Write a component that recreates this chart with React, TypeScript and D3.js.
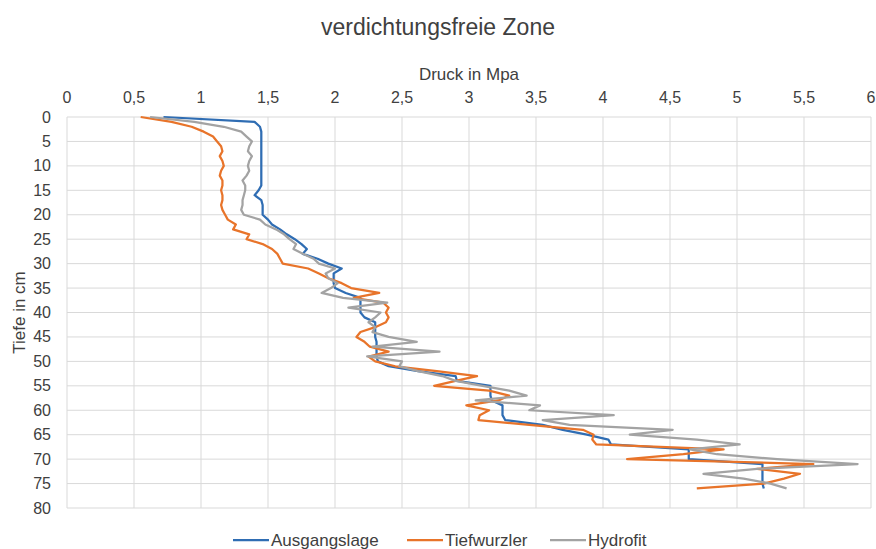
import * as d3 from 'd3'

// depth in cm (shared by all three series)
const depths = [
  0, 1, 2, 3, 4, 5, 6, 7, 8, 9, 10, 11, 12, 13, 14, 15, 16, 17, 18, 19,
  20, 21, 22, 23, 24, 25, 26, 27, 28, 29, 30, 31, 32, 33, 34, 35, 36, 37, 38, 39,
  40, 41, 42, 43, 44, 45, 46, 47, 48, 49, 50, 51, 52, 53, 54, 55, 56, 57, 58, 59,
  60, 61, 62, 63, 64, 65, 66, 67, 68, 69, 70, 71, 72, 73, 74, 75, 76,
]

// Druck in MPa per depth
const ausgangslage = [
  0.72, 1.4, 1.44, 1.45, 1.45, 1.45, 1.45, 1.45, 1.45, 1.45, 1.45, 1.45, 1.45, 1.45, 1.45, 1.43, 1.4, 1.45, 1.46, 1.46,
  1.46, 1.5, 1.53, 1.59, 1.64, 1.7, 1.75, 1.79, 1.76, 1.87, 1.95, 2.05, 1.99, 1.99, 1.99, 2.0, 2.08, 2.19, 2.19, 2.19,
  2.19, 2.22, 2.3, 2.3, 2.3, 2.3, 2.31, 2.31, 2.31, 2.31, 2.32, 2.4, 2.62, 2.9, 2.91, 3.16, 3.16, 3.16, 3.17, 3.25,
  3.25, 3.25, 3.27, 3.55, 3.7, 3.88, 4.04, 4.06, 4.64, 4.64, 4.64, 5.19, 5.19, 5.19, 5.19, 5.19, 5.2,
]

const tiefwurzler = [
  0.55, 0.78, 0.93, 1.02, 1.09, 1.12, 1.15, 1.16, 1.14, 1.16, 1.17, 1.15, 1.14, 1.16, 1.16, 1.15, 1.16, 1.16, 1.15, 1.16,
  1.18, 1.2, 1.26, 1.24, 1.36, 1.34, 1.46, 1.53, 1.57, 1.59, 1.61, 1.8, 1.88, 1.95, 2.05, 2.12, 2.33, 2.14, 2.36, 2.4,
  2.38, 2.4, 2.38, 2.3, 2.19, 2.16, 2.22, 2.26, 2.4, 2.25, 2.3, 2.45, 2.76, 3.06, 2.9, 2.74, 3.15, 3.3, 3.22, 2.98,
  3.15, 3.08, 3.07, 3.45, 3.85, 3.93, 3.92, 3.95, 4.9, 4.6, 4.18, 5.57, 5.15, 5.47, 5.35, 5.2, 4.7,
]

const hydrofit = [
  0.62, 0.95, 1.17, 1.3, 1.34, 1.38, 1.36, 1.35, 1.38, 1.36, 1.35, 1.36, 1.34, 1.31, 1.33, 1.33, 1.32, 1.31, 1.31, 1.3,
  1.32, 1.44, 1.48, 1.56, 1.62, 1.66, 1.71, 1.69, 1.76, 1.84, 1.88, 2.0, 1.93, 1.95, 2.02, 1.97, 1.9, 2.06, 2.39, 2.1,
  2.34, 2.3, 2.25, 2.3, 2.28, 2.4, 2.61, 2.28, 2.78, 2.24, 2.5, 2.48, 2.62, 2.8, 2.9, 3.1, 3.3, 3.43, 3.05, 3.53,
  3.45, 4.08, 3.55, 3.75, 4.52, 4.2, 4.7, 5.02, 4.65, 4.85, 5.3, 5.9, 5.15, 4.75, 5.05, 5.25, 5.37,
]

const xTicks = [0, 0.5, 1, 1.5, 2, 2.5, 3, 3.5, 4, 4.5, 5, 5.5, 6]
const xTickLabels = ['0', '0,5', '1', '1,5', '2', '2,5', '3', '3,5', '4', '4,5', '5', '5,5', '6']
const yTicks = [0, 5, 10, 15, 20, 25, 30, 35, 40, 45, 50, 55, 60, 65, 70, 75, 80]

const series = [
  { name: 'Ausgangslage', values: ausgangslage, color: '#2f6db3' },
  { name: 'Tiefwurzler', values: tiefwurzler, color: '#e8742a' },
  { name: 'Hydrofit', values: hydrofit, color: '#a3a3a3' },
]

const width = 876
const height = 549
const margin = { top: 117, right: 5, bottom: 41, left: 67 }
const font = '"Liberation Sans", Arial, Helvetica, sans-serif'
const textColor = '#404040'

export default function App() {
  const x = d3.scaleLinear().domain([0, 6]).range([margin.left, width - margin.right])
  const y = d3.scaleLinear().domain([0, 80]).range([margin.top, height - margin.bottom])

  const line = d3
    .line<[number, number]>()
    .x((d) => x(d[1]))
    .y((d) => y(d[0]))

  const legendItems = [
    { x: 233, s: series[0] },
    { x: 407, s: series[1] },
    { x: 550, s: series[2] },
  ]

  return (
    <div style={{ position: 'absolute', left: 0, top: 0 }}>
      <svg width={width} height={height} viewBox={`0 0 ${width} ${height}`} style={{ display: 'block', background: '#fff' }}>
        <text x={width / 2} y={35} textAnchor="middle" fontSize="23" fontFamily={font} fill={textColor}>
          verdichtungsfreie Zone
        </text>
        <text x={(x(0) + x(6)) / 2} y={80} textAnchor="middle" fontSize="17" fontFamily={font} fill={textColor}>
          Druck in Mpa
        </text>
        <text
          transform={`translate(25,${(y(0) + y(80)) / 2}) rotate(-90)`}
          textAnchor="middle"
          fontSize="17"
          fontFamily={font}
          fill={textColor}
        >
          Tiefe in cm
        </text>

        {yTicks.map((t) => (
          <g key={`y${t}`}>
            <line x1={x(0)} x2={x(6)} y1={y(t)} y2={y(t)} stroke="#d9d9d9" strokeWidth="1" />
            <text x={51} y={y(t) + 5.5} textAnchor="end" fontSize="16" fontFamily={font} fill={textColor}>
              {t}
            </text>
          </g>
        ))}
        {xTicks.map((t, i) => (
          <g key={`x${t}`}>
            <line x1={x(t)} x2={x(t)} y1={y(0)} y2={y(80)} stroke="#d9d9d9" strokeWidth="1" />
            <text x={x(t)} y={103} textAnchor="middle" fontSize="16" fontFamily={font} fill={textColor}>
              {xTickLabels[i]}
            </text>
          </g>
        ))}

        {series.map((s) => (
          <path
            key={s.name}
            d={line(depths.map((d, i) => [d, s.values[i]] as [number, number])) ?? ''}
            fill="none"
            stroke={s.color}
            strokeWidth="2.25"
            strokeLinejoin="round"
          />
        ))}

        {legendItems.map((item) => (
          <g key={item.s.name}>
            <line x1={item.x} x2={item.x + 36} y1={540} y2={540} stroke={item.s.color} strokeWidth="2.25" />
            <text x={item.x + 38} y={546} fontSize="17" fontFamily={font} fill={textColor}>
              {item.s.name}
            </text>
          </g>
        ))}
      </svg>
    </div>
  )
}
